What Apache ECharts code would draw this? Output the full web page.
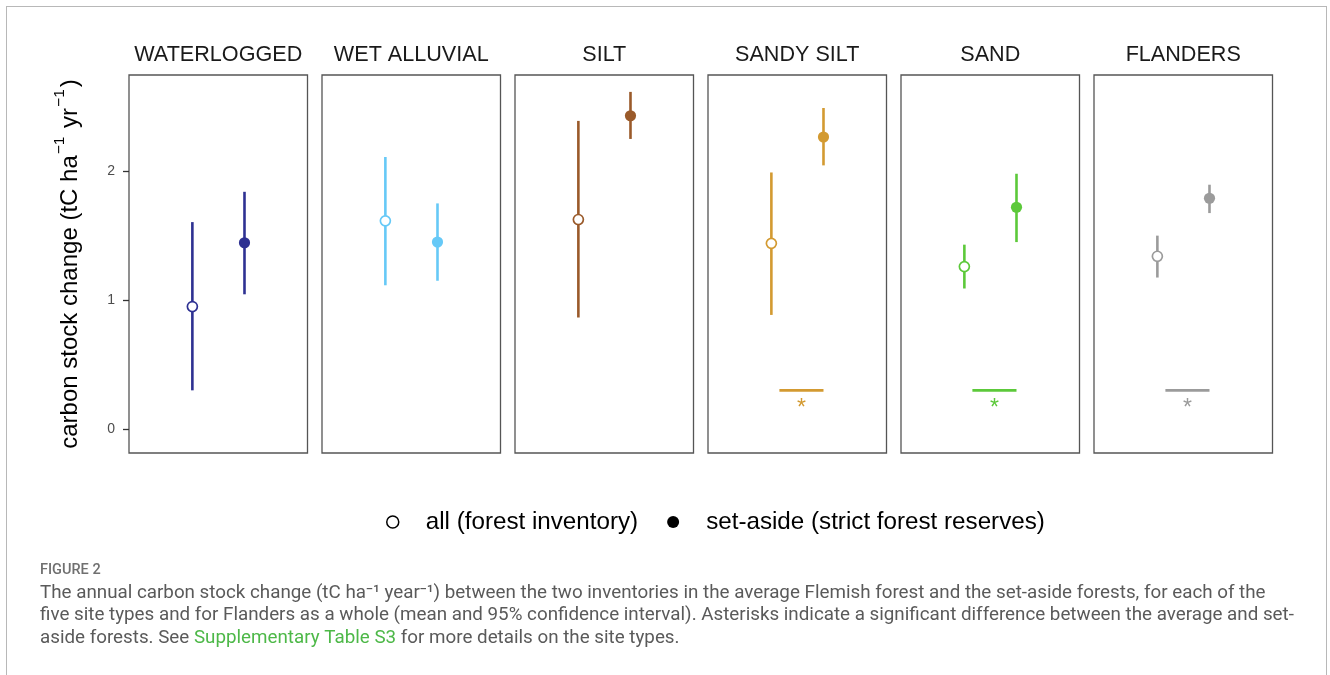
<!DOCTYPE html>
<html>
<head>
<meta charset="utf-8">
<script src="https://cdn.jsdelivr.net/npm/echarts@6/dist/echarts.min.js"></script>
<style>
  html, body { margin: 0; padding: 0; background: #fff; }
  #frame { position: absolute; left: 6px; top: 6px; width: 1321px; height: 700px;
           border: 1.5px solid #b8b8b8; border-bottom: none; box-sizing: border-box; }
  #chart { position: absolute; left: 0; top: 0; width: 1330px; height: 675px; }
</style>
</head>
<body>
<div id="frame"></div>
<div id="chart"></div>
<script>
// site types (facets) and their colours
const panels = ['WATERLOGGED', 'WET ALLUVIAL', 'SILT', 'SANDY SILT', 'SAND', 'FLANDERS'];
const panelColors = ['#2E3192', '#66C9F7', '#9A5A2A', '#D39A31', '#5CC93A', '#9B9B9B'];

// all (forest inventory): mean and 95% CI
const allMean = [0.95, 1.615, 1.625, 1.44, 1.26, 1.34];
const allLow  = [0.30, 1.115, 0.865, 0.885, 1.09, 1.175];
const allHigh = [1.605, 2.11, 2.39, 1.99, 1.43, 1.50];

// set-aside (strict forest reserves): mean and 95% CI
const asideMean = [1.445, 1.45, 2.43, 2.265, 1.72, 1.79];
const asideLow  = [1.045, 1.15, 2.25, 2.045, 1.45, 1.675];
const asideHigh = [1.84, 1.75, 2.615, 2.49, 1.98, 1.895];

// significant difference (asterisk)
const significant = [false, false, false, true, true, true];

const yTicks = [0, 1, 2];
const legendNames = ['all (forest inventory)', 'set-aside (strict forest reserves)'];

const FONT = '"Liberation Sans", Arial, sans-serif';
const CAP_FONT = 'Roboto, sans-serif';
const X_ALL = 0.355, X_ASIDE = 0.647, X_SIG0 = 0.40, SIG_Y = 0.30, STAR_Y = 0.16;

const grids = [], xAxes = [], yAxes = [], series = [];

// point + vertical CI bar
const errorBar = (filled) => (params, api) => {
  const x = api.value(0);
  const pm = api.coord([x, api.value(1)]);
  const plo = api.coord([x, api.value(2)]);
  const phi = api.coord([x, api.value(3)]);
  const color = api.visual('color');
  return {
    type: 'group',
    children: [
      { type: 'line', shape: { x1: plo[0], y1: plo[1], x2: phi[0], y2: phi[1] },
        style: { stroke: color, lineWidth: 2.6 } },
      { type: 'circle', shape: { cx: pm[0], cy: pm[1], r: filled ? 5.6 : 5 },
        style: filled ? { fill: color } : { fill: '#fff', stroke: color, lineWidth: 1.7 } },
    ],
  };
};

// significance line + asterisk
const sigMark = (params, api) => {
  const p0 = api.coord([api.value(0), api.value(2)]);
  const p1 = api.coord([api.value(1), api.value(2)]);
  const ps = api.coord([(api.value(0) + api.value(1)) / 2, api.value(3)]);
  const color = api.visual('color');
  return {
    type: 'group',
    children: [
      { type: 'line', shape: { x1: p0[0], y1: p0[1], x2: p1[0], y2: p1[1] },
        style: { stroke: color, lineWidth: 2.6 } },
      { type: 'text', x: ps[0], y: ps[1],
        style: { text: '*', fill: color, font: '23px ' + FONT, align: 'center', verticalAlign: 'middle' } },
    ],
  };
};

panels.forEach((name, i) => {
  grids.push({
    left: 129 + i * 193, top: 75, width: 178.5, height: 378,
    show: true, borderColor: '#555', borderWidth: 1.3, backgroundColor: '#fff',
  });
  xAxes.push({
    type: 'value', gridIndex: i, min: 0, max: 1, position: 'top',
    name: name, nameLocation: 'middle', nameGap: 9,
    nameTextStyle: { fontSize: 21.6, color: '#1a1a1a', fontFamily: FONT },
    axisLine: { show: false }, axisTick: { show: false },
    axisLabel: { show: false }, splitLine: { show: false },
  });
  yAxes.push({
    type: 'value', gridIndex: i, min: -0.186, max: 2.746,
    axisLine: { show: false }, splitLine: { show: false },
    axisTick: { show: i === 0, length: 6, customValues: yTicks, lineStyle: { color: '#333', width: 1.3 } },
    axisLabel: { show: i === 0, customValues: yTicks, fontSize: 14, color: '#4d4d4d', margin: 14, fontFamily: FONT },
    ...(i === 0 ? {
      name: '{a|carbon stock change (tC ha}{s|−1}{a| yr}{s|−1}{a|)}',
      nameLocation: 'middle', nameRotate: 90, nameGap: 47,
      nameTextStyle: {
        rich: {
          a: { fontSize: 24, color: '#000', fontFamily: FONT, lineHeight: 30, verticalAlign: 'bottom' },
          s: { fontSize: 15.5, color: '#000', fontFamily: FONT, lineHeight: 15, verticalAlign: 'top', padding: [0, 2, 0, 1] },
        },
      },
    } : {}),
  });
  series.push({
    name: legendNames[0], type: 'custom', xAxisIndex: i, yAxisIndex: i,
    itemStyle: { color: panelColors[i] },
    renderItem: errorBar(false),
    data: [[X_ALL, allMean[i], allLow[i], allHigh[i]]],
  });
  series.push({
    name: legendNames[1], type: 'custom', xAxisIndex: i, yAxisIndex: i,
    itemStyle: { color: panelColors[i] },
    renderItem: errorBar(true),
    data: [[X_ASIDE, asideMean[i], asideLow[i], asideHigh[i]]],
  });
  if (significant[i]) {
    series.push({
      name: 'sig', type: 'custom', xAxisIndex: i, yAxisIndex: i,
      itemStyle: { color: panelColors[i] },
      renderItem: sigMark,
      data: [[X_SIG0, X_ASIDE, SIG_Y, STAR_Y]],
    });
  }
});

const chart = echarts.init(document.getElementById('chart'), null, { renderer: 'canvas' });
chart.setOption({
  animation: false,
  textStyle: { fontFamily: FONT },
  grid: grids,
  xAxis: xAxes,
  yAxis: yAxes,
  legend: {
    left: 381, top: 505,
    itemWidth: 12, itemHeight: 12, itemGap: 29,
    selectedMode: false,
    textStyle: { fontSize: 24.2, color: '#000', fontFamily: FONT, padding: [0, 0, 0, 22] },
    data: [
      { name: legendNames[0], icon: 'circle', itemStyle: { color: '#fff', borderColor: '#000', borderWidth: 1.5 } },
      { name: legendNames[1], icon: 'circle', itemStyle: { color: '#000', borderWidth: 0 } },
    ],
  },
  title: [
    {
      text: 'FIGURE 2', left: 35, top: 558,
      textStyle: { fontSize: 14.5, fontWeight: 500, color: '#707070', fontFamily: CAP_FONT },
    },
    {
      text: '{t|The annual carbon stock change (tC ha⁻¹ year⁻¹) between the two inventories in the average Flemish forest and the set-aside forests, for each of the}\n'
        + '{t|five site types and for Flanders as a whole (mean and 95% confidence interval). Asterisks indicate a significant difference between the average and set-}\n'
        + '{t|aside forests. See }{g|Supplementary Table S3}{t| for more details on the site types.}',
      left: 35, top: 577,
      textStyle: {
        fontWeight: 'normal',
        rich: {
          t: { fontSize: 18.8, fontWeight: 'normal', color: '#5a5a5a', fontFamily: CAP_FONT, lineHeight: 22.5 },
          g: { fontSize: 18.8, fontWeight: 'normal', color: '#4DB848', fontFamily: CAP_FONT, lineHeight: 22.5 },
        },
      },
    },
  ],
  series: series,
});
</script>
</body>
</html>
